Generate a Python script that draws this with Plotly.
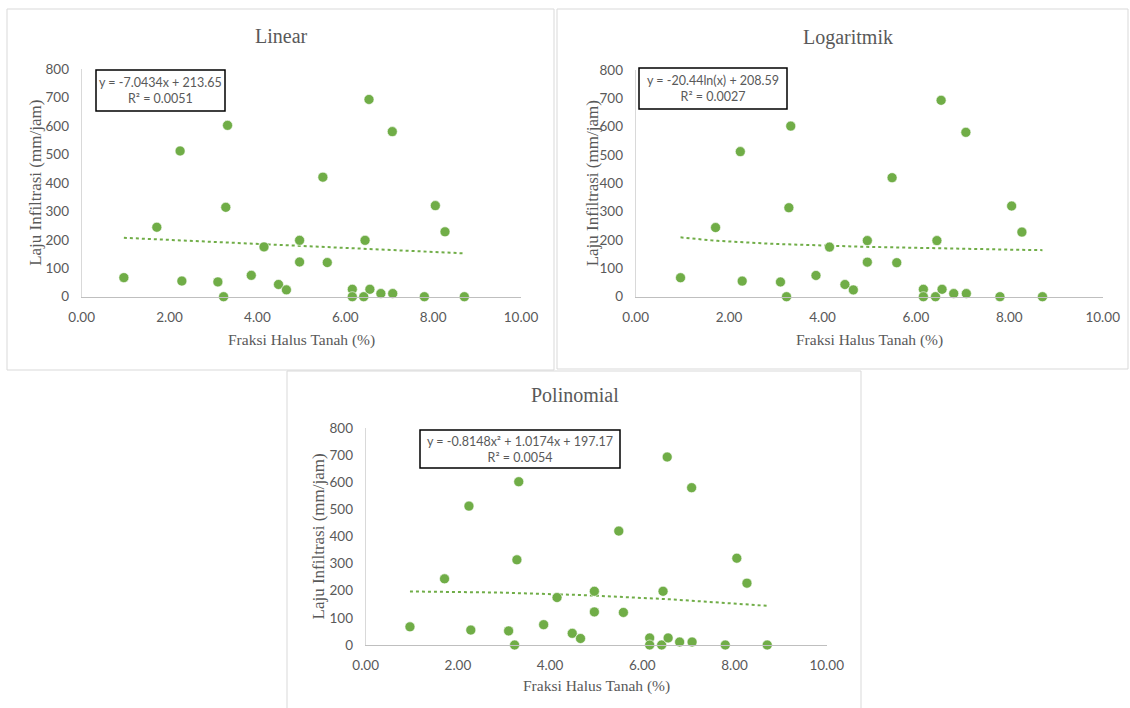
import numpy as np
import plotly.graph_objects as go

# Data
fraksi_halus = [0.96, 1.71, 2.24, 2.28, 3.10, 3.23, 3.28, 3.32, 3.86, 4.15,
                4.48, 4.66, 4.96, 4.96, 5.49, 5.59, 6.16, 6.16, 6.42, 6.45,
                6.54, 6.56, 6.81, 7.07, 7.08, 7.80, 8.05, 8.27, 8.71]
laju_infiltrasi = [67, 244, 512, 55, 52, 0, 314, 602, 75, 175,
                   43, 24, 198, 122, 420, 120, 26, 0, 0, 198,
                   693, 26, 11, 580, 11, 0, 320, 228, 0]

panel_titles = ["Linear", "Logaritmik", "Polinomial"]
equations = ["y = -7.0434x + 213.65<br>R² = 0.0051",
             "y = -20.44ln(x) + 208.59<br>R² = 0.0027",
             "y = -0.8148x² + 1.0174x + 197.17<br>R² = 0.0054"]
linear_coef = [-7.0434, 213.65]
log_coef = [-20.44, 208.59]
poly_coef = [-0.8148, 1.0174, 197.17]
x_ticks = [0, 2, 4, 6, 8, 10]
y_ticks = [0, 100, 200, 300, 400, 500, 600, 700, 800]

W, H = 1130, 708
GREEN = "#70AD47"
GRAY_TXT = "#595959"

def px(x):
    return x / W

def py(y):
    return 1 - y / H

# plot areas in pixels: (left, right, top, bottom)
areas = [(81.7, 521, 69, 296.7), (635.7, 1102.7, 70, 296.7), (365.7, 826.7, 428, 645)]
panels = [(7, 554, 9, 370), (557, 1128, 9, 369), (287, 861, 371, 712)]
title_pos = [(281, 36), (848, 37), (575, 395)]
xtitle_y = [340, 340, 686]
ytitle_x = [36, 592, 318]
eq_box = [(96, 70, 129, 41), (639, 68, 148, 41), (420, 430, 200, 38)]

xs = np.array(fraksi_halus)
xline = np.linspace(xs.min(), xs.max(), 60)
trend = [
    linear_coef[0] * xline + linear_coef[1],
    log_coef[0] * np.log(xline) + log_coef[1],
    poly_coef[0] * xline**2 + poly_coef[1] * xline + poly_coef[2],
]

fig = go.Figure()
annotations = []
shapes = []
for i in range(3):
    l, r, t, b = areas[i]
    xa = "x" if i == 0 else f"x{i+1}"
    ya = "y" if i == 0 else f"y{i+1}"
    fig.add_trace(go.Scatter(x=xline, y=trend[i], mode="lines",
                             line=dict(color=GREEN, width=2, dash="dot"),
                             xaxis=xa, yaxis=ya, showlegend=False, hoverinfo="skip"))
    fig.add_trace(go.Scatter(x=fraksi_halus, y=laju_infiltrasi, mode="markers",
                             marker=dict(color=GREEN, size=10, line=dict(color="white", width=0.6)),
                             cliponaxis=False, xaxis=xa, yaxis=ya, showlegend=False))
    axis_x = dict(domain=[px(l), px(r)], range=[0, 10], tickvals=x_ticks,
                  tickformat=".2f", showgrid=False, zeroline=False,
                  showline=True, linecolor="#BFBFBF", linewidth=1.3,
                  ticks="", ticklabelstandoff=8,
                  tickfont=dict(family="Lato", size=13.5, color=GRAY_TXT),
                  anchor=ya, fixedrange=True, automargin=False)
    axis_y = dict(domain=[py(b), py(t)], range=[0, 800], tickvals=y_ticks,
                  showgrid=False, zeroline=False, showline=True,
                  linecolor="#D9D9D9", linewidth=1, ticks="", ticklabelstandoff=9,
                  tickfont=dict(family="Lato", size=13.5, color=GRAY_TXT),
                  anchor=xa, fixedrange=True, automargin=False)
    key = "" if i == 0 else str(i + 1)
    fig.update_layout(**{f"xaxis{key}": axis_x, f"yaxis{key}": axis_y})

    pl, pr, pt, pb = panels[i]
    shapes.append(dict(type="rect", xref="paper", yref="paper",
                       x0=px(pl), x1=px(pr), y0=py(pb), y1=py(pt),
                       line=dict(color="#D9D9D9", width=1), fillcolor="rgba(0,0,0,0)", layer="below"))
    tx, ty = title_pos[i]
    common = dict(xref="paper", yref="paper", showarrow=False,
                  xanchor="center", yanchor="middle")
    annotations.append(dict(text=panel_titles[i], x=px(tx), y=py(ty),
                            font=dict(family="Liberation Serif", size=20, color=GRAY_TXT), **common))
    annotations.append(dict(text="Fraksi Halus Tanah (%)",
                            x=px((l + r) / 2), y=py(xtitle_y[i]),
                            font=dict(family="Liberation Serif", size=15.5, color=GRAY_TXT), **common))
    annotations.append(dict(text="Laju Infiltrasi (mm/jam)",
                            x=px(ytitle_x[i]), y=py((t + b) / 2), textangle=-90,
                            font=dict(family="Liberation Serif", size=17, color=GRAY_TXT), **common))
    ex, ey, ew, eh = eq_box[i]
    shapes.append(dict(type="rect", xref="paper", yref="paper",
                       x0=px(ex), x1=px(ex + ew), y0=py(ey + eh), y1=py(ey),
                       line=dict(color="black", width=1.5), fillcolor="white"))
    annotations.append(dict(text=equations[i], x=px(ex + ew / 2), y=py(ey + eh / 2),
                            align="center",
                            font=dict(family="Lato", size=12.5, color=GRAY_TXT), **common))

fig.update_layout(width=W, height=H,
                  margin=dict(l=0, r=0, t=0, b=0, pad=0, autoexpand=False),
                  paper_bgcolor="white", plot_bgcolor="white",
                  annotations=annotations, shapes=shapes)
fig.write_html("out.html", config={"displayModeBar": False},
               post_script="document.body.style.margin='0';document.body.style.overflow='hidden';")
